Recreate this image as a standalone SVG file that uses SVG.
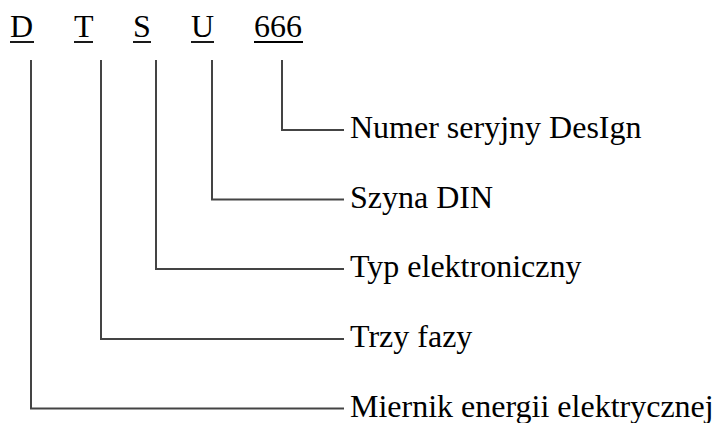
<svg xmlns="http://www.w3.org/2000/svg" width="717" height="423" viewBox="0 0 717 423">
  <style>
    text { font-family: "Liberation Serif", "Times New Roman", serif; font-size: 32px; fill: #000; }
    .ul { stroke: #000; stroke-width: 1.8; }
    .conn { fill: none; stroke: #444; stroke-width: 2; }
  </style>
  <rect width="717" height="423" fill="#fff"/>

  <!-- code letters with underlines -->
  <g id="code-D"><text x="10" y="37">D</text><line class="ul" x1="10" y1="42" x2="34" y2="42"/></g>
  <g id="code-T"><text x="74" y="37">T</text><line class="ul" x1="74" y1="42" x2="93" y2="42"/></g>
  <g id="code-S"><text x="133" y="37">S</text><line class="ul" x1="133" y1="42" x2="151" y2="42"/></g>
  <g id="code-U"><text x="191" y="37">U</text><line class="ul" x1="191" y1="42" x2="214" y2="42"/></g>
  <g id="code-666"><text x="254" y="37">666</text><line class="ul" x1="254" y1="42" x2="303" y2="42"/></g>

  <!-- connectors -->
  <g id="connectors">
    <polyline class="conn" points="282,60 282,130 344,130"/>
    <polyline class="conn" points="212,60 212,199.5 344,199.5"/>
    <polyline class="conn" points="156,60 156,269 344,269"/>
    <polyline class="conn" points="101,60 101,339 344,339"/>
    <polyline class="conn" points="31,60 31,408.5 344,408.5"/>
  </g>

  <!-- descriptions -->
  <g id="label-serial"><text x="350" y="138">Numer seryjny DesIgn</text></g>
  <g id="label-din"><text x="350" y="207.5">Szyna DIN</text></g>
  <g id="label-type"><text x="350" y="277">Typ elektroniczny</text></g>
  <g id="label-phase"><text x="350" y="347">Trzy fazy</text></g>
  <g id="label-meter"><text x="350" y="417">Miernik energii elektrycznej</text></g>
</svg>
